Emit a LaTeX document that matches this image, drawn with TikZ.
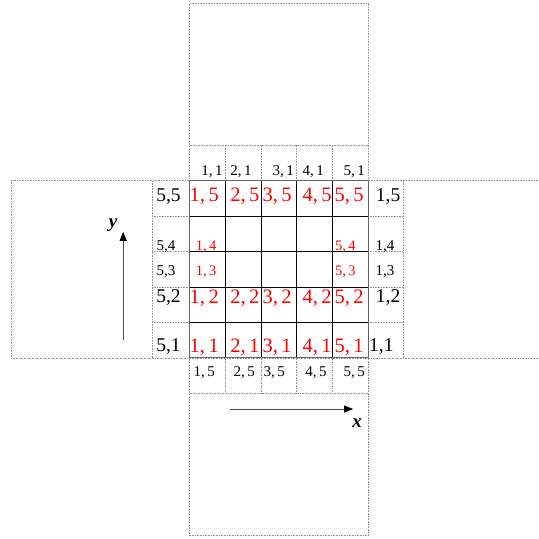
\documentclass[tikz,border=0pt]{standalone}
\usepackage{fontspec}
\setmainfont{Liberation Serif}
\usetikzlibrary{arrows.meta,positioning}

\begin{document}
\begin{tikzpicture}[
  x=35.7pt, y=35.5pt,
  strip/.style={draw=gray!85, densely dotted, line width=.6pt},
  cell/.style={draw=black, line width=.7pt},
  rim/.style={draw=gray!80!black, line width=1.1pt},
  bigred/.style={text=red, inner sep=0pt, font=\fontsize{20.5}{22}\selectfont},
  smallred/.style={text=red, inner sep=0pt, font=\fontsize{14.5}{16}\selectfont},
  bigidx/.style={inner sep=0pt, font=\fontsize{19.5}{22}\selectfont},
  smallidx/.style={inner sep=0pt, font=\fontsize{15}{17}\selectfont},
  axis/.style={draw=gray!60!black, line width=.8pt,
               -{Triangle[length=9pt, width=7pt, color=black]}},
  axislabel/.style={inner sep=0pt, font=\fontsize{19}{22}\selectfont\bfseries\itshape},
]
\useasboundingbox (-5.31,-5.10) rectangle (9.76,10.08);

% outer cross
\draw[strip] (0,-5) rectangle (5,10);
\draw[strip] (9.76,0) -- (-5,0) -- (-5,5) -- (9.76,5);
% strips round the grid
\draw[strip] (0,6) -- (5,6);
\draw[strip] (0,-1) -- (5,-1);
\draw[strip] (-1.05,0) -- (-1.05,5);
\draw[strip] (5.98,0) -- (5.98,5);
\foreach \i in {1,...,4} {
  \draw[strip] (\i,5) -- (\i,6);
  \draw[strip] (\i,-1) -- (\i,0);
  \draw[strip] (-1.05,\i) -- (0,\i);
  \draw[strip] (5,\i) -- (5.98,\i);
}
% the 5x5 grid
\foreach \i in {1,...,4} {
  \draw[cell] (\i,0) -- (\i,5);
  \draw[cell] (0,\i) -- (5,\i);
}
\draw[rim] (0,0) rectangle (5,5);

% indices inside the grid
\foreach \c/\x in {1/0.41,2/1.55,3/2.45,4/3.57,5/4.47} {
  \node[bigred] (r\c5) at (\x,4.54) {\c,\,5};
  \node[bigred] (r\c2) at (\x,1.69) {\c,\,2};
  \node[bigred] (r\c1) at (\x,0.31) {\c,\,1};
}
\node[smallred] (r14) at (0.46,3.13) {1,\,4};
\node[smallred] (r13) at (0.46,2.42) {1,\,3};
\node[smallred] (r54) at (4.36,3.13) {5,\,4};
\node[smallred] (r53) at (4.36,2.42) {5,\,3};

% left and right neighbours
\node[bigidx] (w5) at (-0.59,4.54) {5,5};
\node[smallidx] (w4) at (-0.66,3.13) {5,4};
\node[smallidx] (w3) at (-0.66,2.42) {5,3};
\node[bigidx] (w2) at (-0.59,1.69) {5,2};
\node[bigidx] (w1) at (-0.59,0.31) {5,1};
\node[bigidx] (e5) at (5.56,4.54) {1,5};
\node[smallidx] (e4) at (5.47,3.13) {1,4};
\node[smallidx] (e3) at (5.47,2.42) {1,3};
\node[bigidx] (e2) at (5.56,1.69) {1,2};
\node[bigidx] (e1) at (5.37,0.31) {1,1};

% top and bottom neighbours
\foreach \c/\x in {1/0.63,2/1.44,3/2.62,4/3.46,5/4.61}
  \node[smallidx] (n\c) at (\x,5.24) {\c,\,1};
\foreach \c/\x in {1/0.41,2/1.53,3/2.37,4/3.54,5/4.61}
  \node[smallidx] (s\c) at (\x,-0.42) {\c,\,5};

% axes
\coordinate (ybot) at (-1.86,0.51);
\coordinate (ytop) at (-1.86,3.55);
\coordinate (xleft) at (1.13,-1.44);
\coordinate (xright) at (4.58,-1.44);
\draw[axis] (ybot) -- (ytop);
\draw[axis] (xleft) -- (xright);
\node[axislabel] (ylab) at (-2.14,3.75) {y};
\node[axislabel] (xlab) at (4.69,-1.83) {x};
\end{tikzpicture}
\end{document}
